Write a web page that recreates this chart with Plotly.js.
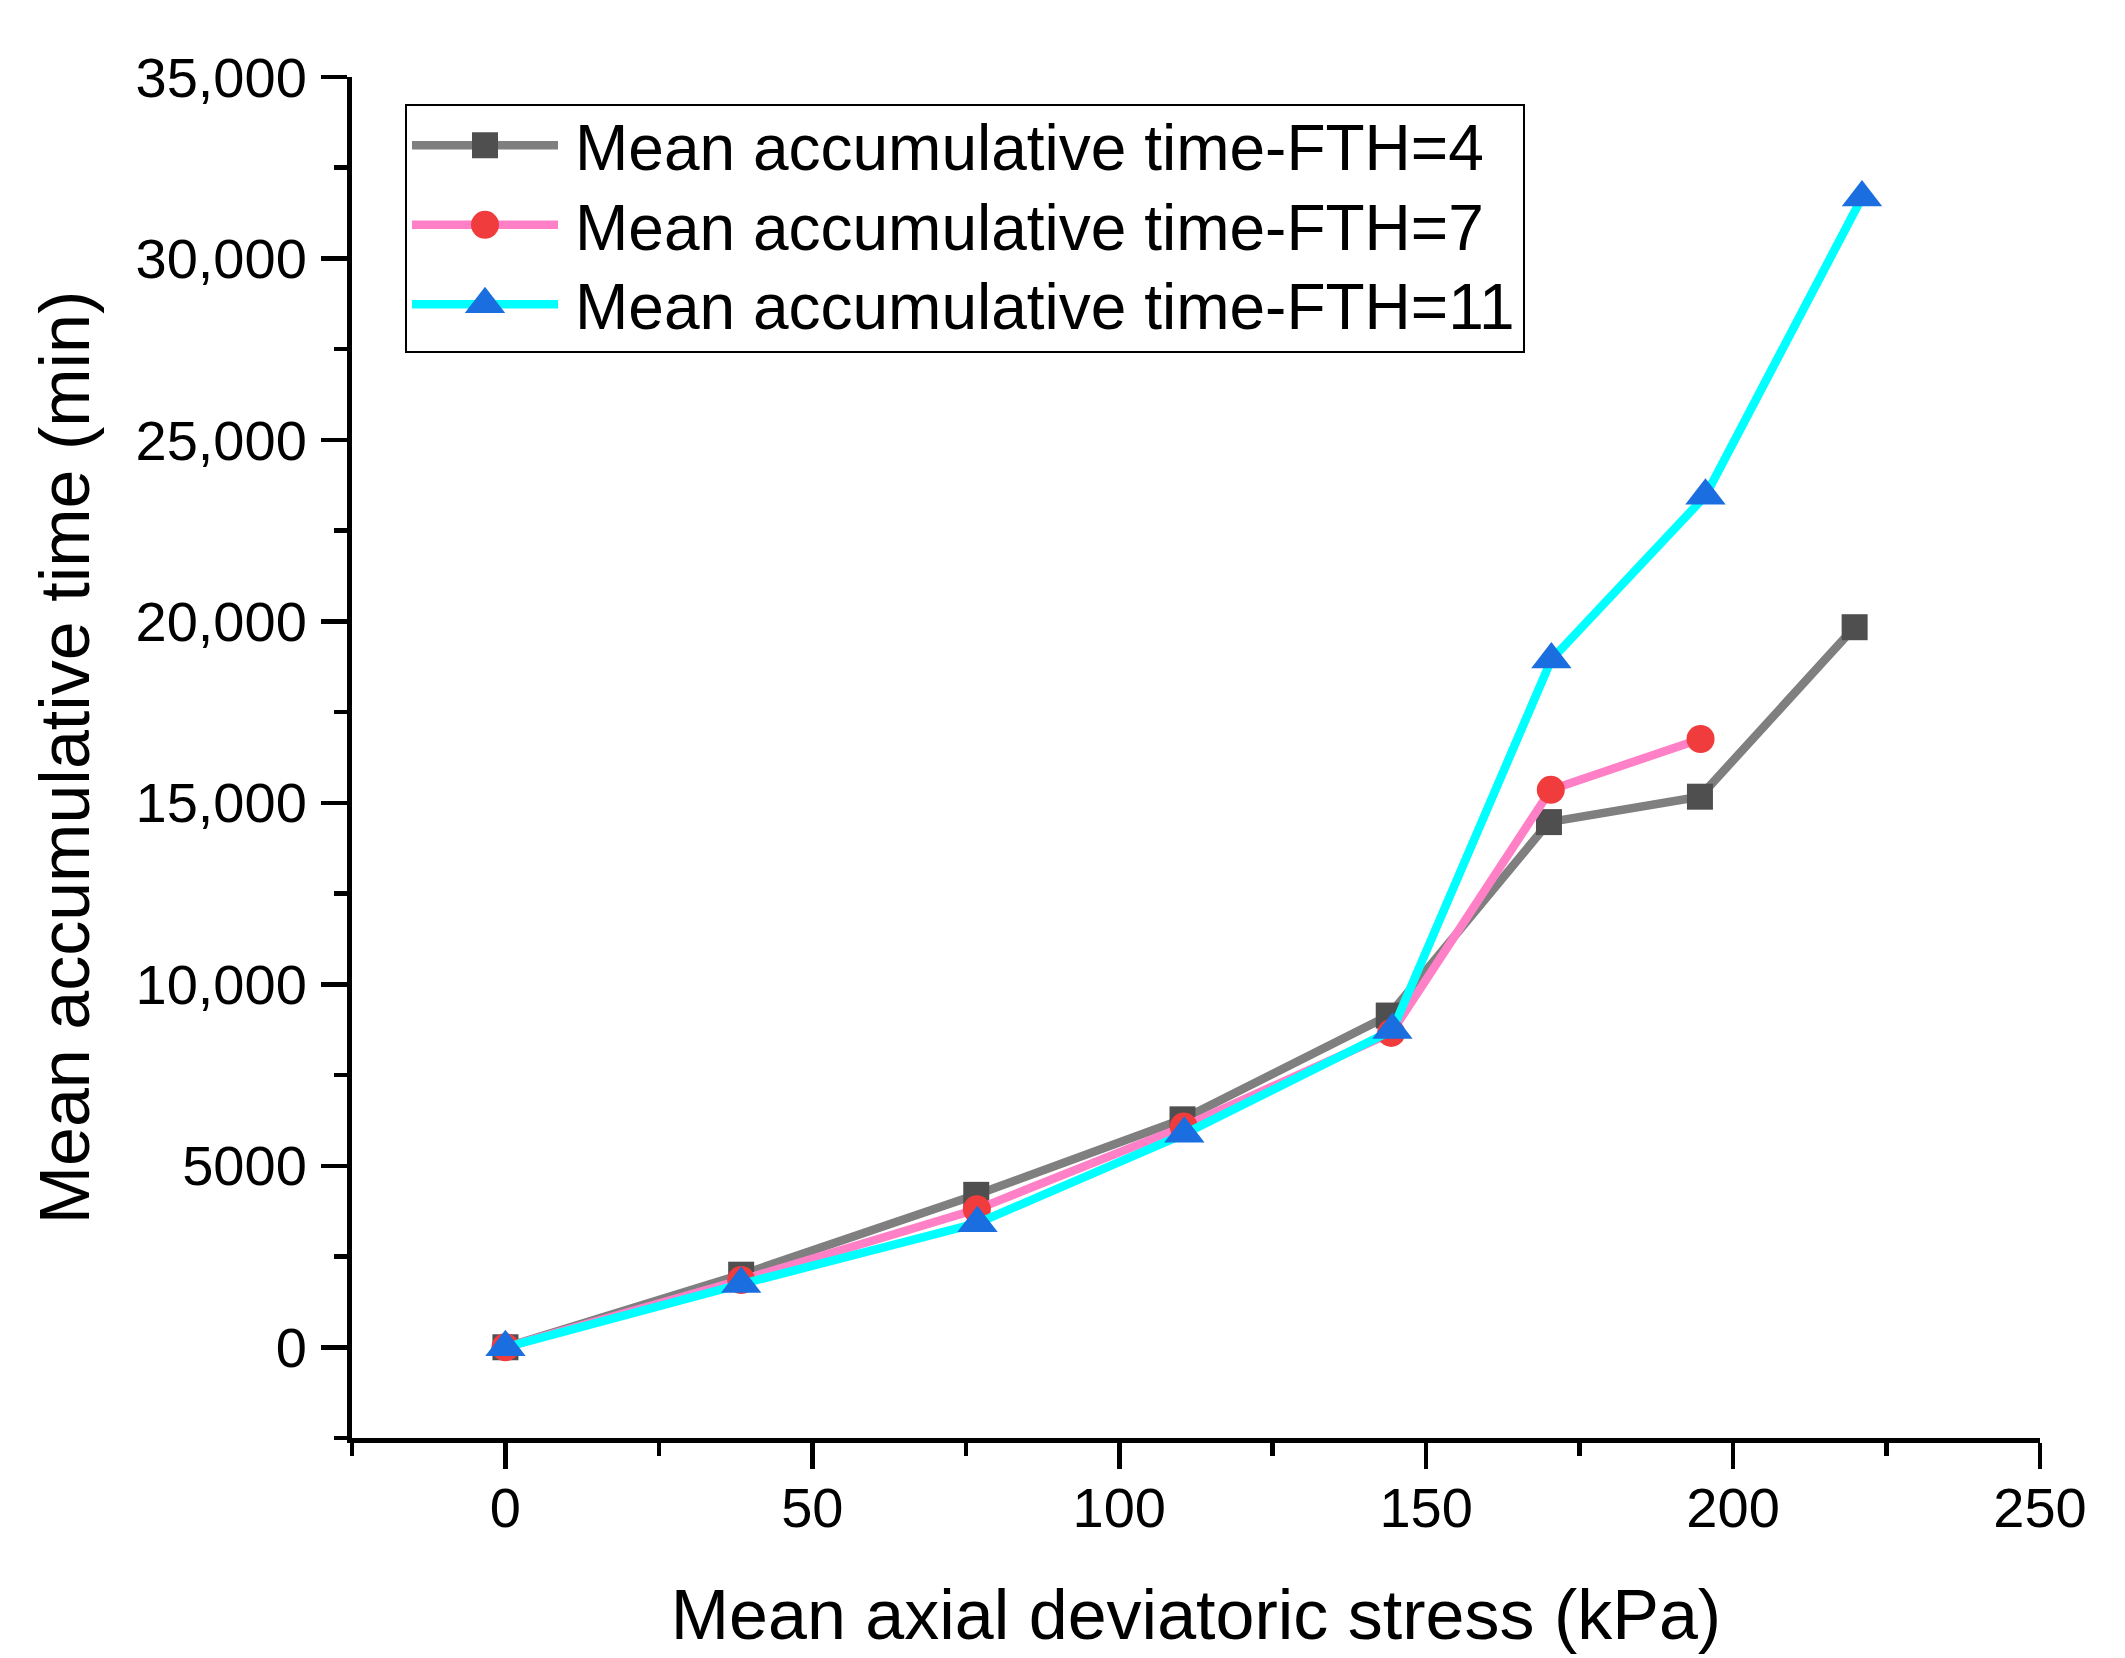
<!DOCTYPE html>
<html>
<head>
<meta charset="utf-8">
<script src="https://cdn.plot.ly/plotly-3.0.1.min.js"></script>
<style>
  html, body { margin: 0; padding: 0; background: #ffffff; }
  #chart { width: 2125px; height: 1658px; }
</style>
</head>
<body>
<div id="chart"></div>
<script>
// ---- data ----
const seriesNames = [
  "Mean accumulative time-FTH=4",
  "Mean accumulative time-FTH=7",
  "Mean accumulative time-FTH=11"
];
const stressFTH4  = [0, 38.4, 76.7, 110.3, 143.9, 170.0, 194.6, 219.8];
const timeFTH4    = [0, 2000, 4200, 6280, 9140, 14470, 15170, 19840];
const stressFTH7  = [0, 38.4, 76.8, 110.5, 144.3, 170.3, 194.7];
const timeFTH7    = [0, 1850, 3800, 6080, 8660, 15360, 16760];
const stressFTH11 = [0, 38.4, 76.9, 110.6, 144.5, 170.4, 195.5, 221.0];
const timeFTH11   = [0, 1740, 3420, 5880, 8740, 18950, 23460, 31680];

const xTickVals = [0, 50, 100, 150, 200, 250];
const yTickVals = [0, 5000, 10000, 15000, 20000, 25000, 30000, 35000];
const yTickText = ["0", "5000", "10,000", "15,000", "20,000", "25,000", "30,000", "35,000"];

const xTitle = "Mean axial deviatoric stress (kPa)";
const yTitle = "Mean accumulative time (min)";

// ---- styling ----
const FONT = "Liberation Sans, Arial, Helvetica, sans-serif";
const lineColors   = ["#7f7f7f", "#ff80c6", "#00ffff"];
const markerColors = ["#4f4f4f", "#f03c3c", "#1a6edf"];
const symbols      = ["square", "circle", "triangle-up"];
const markerSizes  = [26, 28, 35];

const xs = [stressFTH4, stressFTH7, stressFTH11];
const ys = [timeFTH4, timeFTH7, timeFTH11];

const traces = seriesNames.map((name, i) => ({
  type: "scatter",
  mode: "lines+markers",
  name: name,
  x: xs[i],
  y: ys[i],
  line: { color: lineColors[i], width: 8.5 },
  marker: { symbol: symbols[i], size: markerSizes[i], color: markerColors[i], line: { width: 0 } },
  cliponaxis: false
}));

const axisCommon = {
  showline: true,
  linecolor: "#000000",
  linewidth: 5,
  mirror: false,
  showgrid: false,
  zeroline: false,
  ticks: "outside",
  ticklen: 26,
  tickwidth: 4.5,
  tickcolor: "#000000",
  tickfont: { family: FONT, size: 56, color: "#000000" }
};

const layout = {
  width: 2125,
  height: 1658,
  paper_bgcolor: "#ffffff",
  plot_bgcolor: "#ffffff",
  margin: { l: 352, r: 85, t: 77, b: 220, pad: 0 },
  showlegend: true,
  font: { family: FONT, color: "#000000" },
  xaxis: Object.assign({}, axisCommon, {
    range: [-25, 250],
    tickmode: "array",
    tickvals: xTickVals,
    ticktext: xTickVals.map(String),
    ticklabelstandoff: -9,
    minor: { tickmode: "linear", tick0: 0, dtick: 25, ticks: "outside", ticklen: 13, tickwidth: 4.5, tickcolor: "#000000" },
    title: { text: xTitle, font: { family: FONT, size: 70, color: "#000000" }, standoff: 53 }
  }),
  yaxis: Object.assign({}, axisCommon, {
    range: [-2500, 35000],
    tickmode: "array",
    tickvals: yTickVals,
    ticktext: yTickText,
    ticklabelstandoff: 3,
    minor: { tickmode: "linear", tick0: 0, dtick: 2500, ticks: "outside", ticklen: 13, tickwidth: 4.5, tickcolor: "#000000" },
    title: { text: yTitle, font: { family: FONT, size: 70, color: "#000000" }, standoff: 25 }
  }),
  legend: {
    x: 0.0314, y: 0.980, xanchor: "left", yanchor: "top",
    bgcolor: "rgba(255,255,255,0)",
    bordercolor: "#000000",
    borderwidth: 2,
    font: { family: FONT, size: 64, color: "#000000" },
    itemwidth: 158,
    tracegroupgap: 0
  }
};

function parseTranslate(str) {
  const m = /translate\(\s*([-\d.e]+)[ ,]+([-\d.e]+)\s*\)/.exec(str || "");
  return m ? [parseFloat(m[1]), parseFloat(m[2])] : [0, 0];
}

Plotly.newPlot("chart", traces, layout, { staticPlot: true, displayModeBar: false }).then(function (gd) {
  // Legend sample styling like the reference: long line, large marker, tighter rows.
  const legend = gd.querySelector(".legend");
  const items = legend.querySelectorAll(".traces");
  const rowH = 79.5;
  let first = null;
  items.forEach(function (g, i) {
    const ln = g.querySelector("path.js-line");
    if (ln) ln.setAttribute("d", "M5,0h146");
    g.querySelectorAll("path.scatterpts").forEach(function (p) {
      const s = markerSizes[i] / 16;
      p.setAttribute("transform", "translate(78,0) scale(" + s + ")");
    });
    const t = parseTranslate(g.getAttribute("transform"));
    if (first === null) first = t;
    g.setAttribute("transform", "translate(" + t[0] + "," + (first[1] - 9 + i * rowH) + ")");
  });
  const bg = legend.querySelector("rect.bg");
  if (bg) {
    const w = parseFloat(bg.getAttribute("width"));
    bg.setAttribute("height", 247);
    bg.setAttribute("width", w + 3);
  }
});
</script>
</body>
</html>
